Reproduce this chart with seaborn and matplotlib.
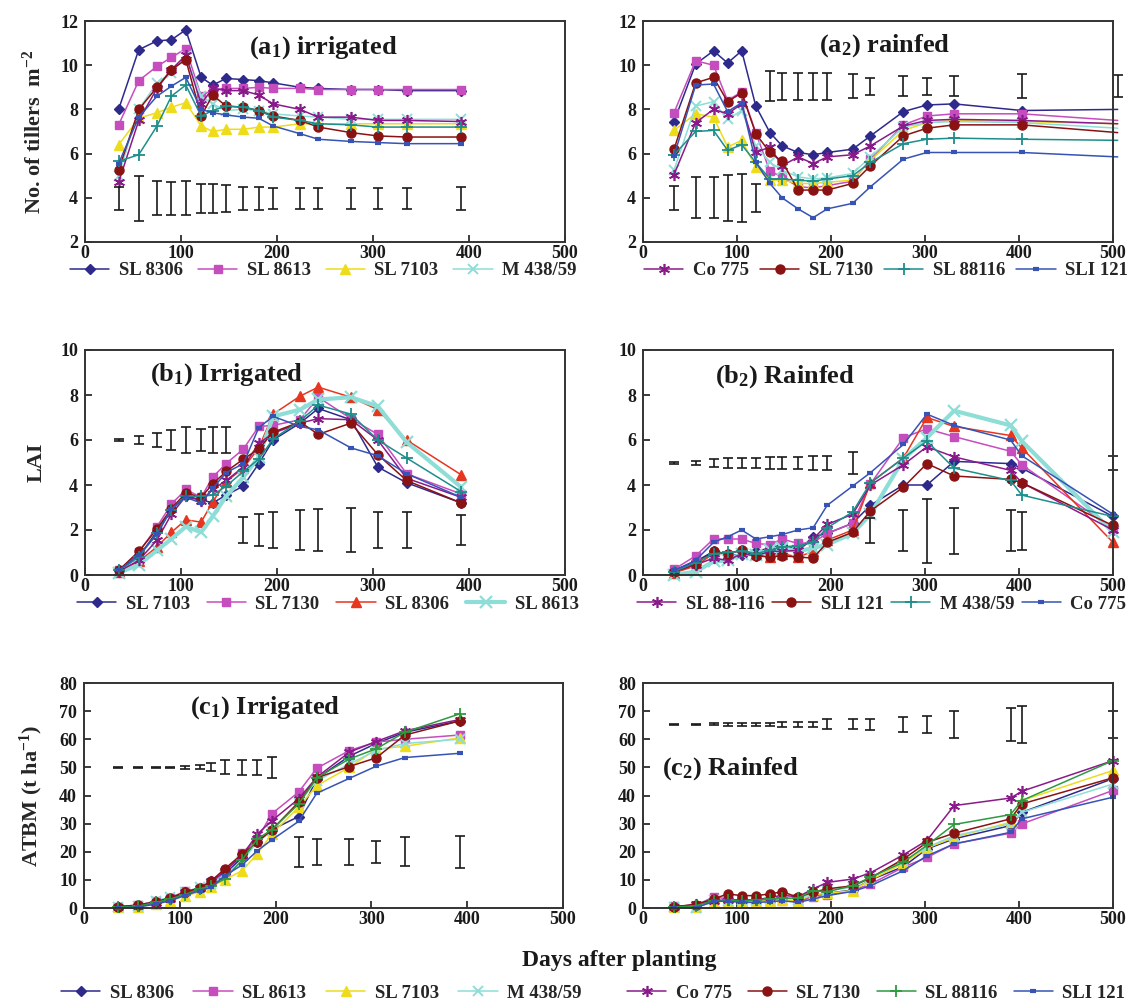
import matplotlib
matplotlib.use("Agg")
import matplotlib.pyplot as plt
import seaborn as sns

# ---------------------------------------------------------------------------
# Sampling dates (days after planting)
# ---------------------------------------------------------------------------
days_irr = [35, 56, 75, 90, 105, 121, 133, 147, 165, 181, 196, 224, 243, 277, 305, 335, 392]
days_rain_a = [33, 56, 75, 90, 105, 120, 135, 148, 165, 181, 196, 223, 242, 277, 302, 331, 403, 505]
days_rain = [33, 56, 75, 90, 105, 120, 135, 148, 165, 181, 196, 223, 242, 277, 302, 331, 391, 403, 500]

# ---------------------------------------------------------------------------
# (a1) tillers, irrigated
# ---------------------------------------------------------------------------
tillers_irr = {
    "SL 8306": [8.0, 10.7, 11.1, 11.15, 11.6, 9.45, 9.1, 9.4, 9.35, 9.3, 9.2, 9.0, 8.95, 8.9, 8.9, 8.85, 8.85],
    "SL 8613": [7.3, 9.3, 9.95, 10.35, 10.75, 8.6, 8.9, 8.95, 8.95, 9.0, 8.95, 8.95, 8.9, 8.9, 8.9, 8.9, 8.9],
    "SL 7103": [6.4, 7.6, 7.85, 8.1, 8.3, 7.25, 7.0, 7.1, 7.1, 7.2, 7.2, 7.35, 7.35, 7.35, 7.35, 7.35, 7.35],
    "M 438/59": [5.0, 8.0, 9.2, 9.65, 10.4, 8.6, 8.25, 7.95, 8.0, 7.95, 7.8, 7.7, 7.65, 7.55, 7.55, 7.55, 7.55],
    "Co 775": [4.7, 7.5, 8.95, 9.8, 10.45, 8.25, 8.95, 8.85, 8.85, 8.65, 8.25, 8.0, 7.65, 7.65, 7.5, 7.5, 7.45],
    "SL 7130": [5.25, 8.0, 9.0, 9.8, 10.25, 7.7, 8.65, 8.15, 8.1, 7.95, 7.7, 7.5, 7.2, 6.95, 6.8, 6.75, 6.75],
    "SL 88116": [5.65, 5.95, 7.25, 8.6, 9.1, 7.7, 7.95, 8.15, 8.1, 7.95, 7.65, 7.5, 7.35, 7.3, 7.2, 7.2, 7.2],
    "SLI 121": [5.55, 7.65, 8.6, 9.05, 9.45, 8.0, 7.85, 7.75, 7.65, 7.6, 7.25, 6.9, 6.65, 6.55, 6.5, 6.45, 6.45],
}
tillers_irr_err_mid = [3.97] * 17
tillers_irr_err_half = [0.52, 1.02, 0.77, 0.75, 0.77, 0.65, 0.66, 0.62, 0.54, 0.54, 0.49, 0.49, 0.47, 0.48, 0.48, 0.48, 0.5]

# ---------------------------------------------------------------------------
# (a2) tillers, rainfed
# ---------------------------------------------------------------------------
tillers_rain = {
    "SL 8306": [7.45, 10.05, 10.65, 10.1, 10.65, 8.15, 6.95, 6.35, 6.05, 5.95, 6.05, 6.2, 6.8, 7.9, 8.2, 8.25, 7.95, 8.0],
    "SL 8613": [7.85, 10.2, 10.0, 8.4, 8.8, 6.95, 5.2, 4.95, 4.5, 4.45, 4.55, 4.75, 5.75, 7.3, 7.7, 7.8, 7.8, 7.5],
    "SL 7103": [7.05, 7.8, 7.65, 6.3, 6.6, 5.4, 4.8, 4.8, 4.65, 4.65, 4.7, 4.8, 5.7, 7.05, 7.4, 7.5, 7.45, 7.35],
    "M 438/59": [5.25, 8.15, 8.35, 7.55, 7.95, 6.35, 5.6, 5.25, 4.95, 4.85, 4.9, 5.1, 5.85, 7.2, 7.4, 7.45, 7.4, 7.15],
    "Co 775": [5.05, 7.4, 8.0, 7.8, 8.25, 6.05, 6.3, 5.45, 5.85, 5.55, 5.85, 5.95, 6.35, 7.25, 7.5, 7.55, 7.5, 7.35],
    "SL 7130": [6.2, 9.2, 9.45, 8.35, 8.75, 6.9, 6.05, 5.65, 4.35, 4.35, 4.35, 4.65, 5.45, 6.8, 7.15, 7.3, 7.3, 6.95],
    "SL 88116": [5.95, 7.0, 7.05, 6.15, 6.4, 5.6, 4.85, 4.85, 4.8, 4.75, 4.85, 5.0, 5.6, 6.45, 6.65, 6.7, 6.65, 6.6],
    "SLI 121": [5.9, 9.1, 9.15, 7.9, 8.3, 5.6, 4.65, 4.0, 3.5, 3.1, 3.5, 3.75, 4.5, 5.75, 6.05, 6.05, 6.05, 5.85],
}
tillers_rain_err_mid = [4.0] * 6 + [9.05] * 12
tillers_rain_err_half = [0.55, 0.92, 0.92, 1.04, 1.09, 0.62, 0.67, 0.61, 0.61, 0.61, 0.61, 0.55,
                         0.38, 0.44, 0.38, 0.44, 0.53, 0.5]

# ---------------------------------------------------------------------------
# (b1) LAI, irrigated
# ---------------------------------------------------------------------------
lai_irr = {
    "SL 7103": [0.2, 0.8, 1.95, 2.9, 3.5, 3.35, 3.2, 3.55, 3.95, 4.95, 6.0, 6.75, 7.4, 6.9, 4.8, 4.1, 3.2],
    "SL 7130": [0.2, 1.0, 2.15, 3.15, 3.8, 3.45, 4.35, 4.95, 5.6, 6.6, 6.65, 6.9, 7.9, 6.95, 6.25, 4.5, 3.6],
    "SL 8306": [0.15, 0.6, 1.25, 1.9, 2.45, 2.35, 3.25, 4.15, 4.75, 5.65, 7.15, 7.95, 8.35, 7.9, 7.35, 6.0, 4.45],
    "SL 8613": [0.1, 0.45, 1.1, 1.6, 2.15, 1.9, 2.6, 3.5, 4.35, 5.25, 7.05, 7.35, 7.8, 7.9, 7.5, 5.9, 3.9],
    "SL 88-116": [0.15, 0.65, 1.55, 2.7, 3.5, 3.3, 3.8, 4.2, 4.8, 5.85, 6.3, 6.75, 6.95, 6.9, 6.0, 4.3, 3.45],
    "SLI 121": [0.2, 1.05, 2.05, 2.95, 3.65, 3.45, 4.05, 4.6, 5.15, 5.6, 6.35, 6.8, 6.25, 6.75, 5.35, 4.2, 3.2],
    "M 438/59": [0.2, 0.8, 1.85, 2.9, 3.5, 3.5, 3.55, 3.95, 4.6, 5.15, 6.05, 6.85, 7.55, 7.15, 6.0, 5.2, 3.7],
    "Co 775": [0.2, 0.9, 1.8, 2.95, 3.45, 3.2, 3.85, 4.55, 4.95, 6.55, 7.05, 6.6, 6.45, 5.65, 5.3, 4.5, 3.45],
}
lai_irr_err_mid = [6.0] * 8 + [2.0] * 9
lai_irr_err_half = [0.05, 0.17, 0.32, 0.46, 0.58, 0.47, 0.57, 0.56, 0.58, 0.69, 0.79, 0.88, 0.94, 0.96, 0.8, 0.8, 0.65]

# ---------------------------------------------------------------------------
# (b2) LAI, rainfed
# ---------------------------------------------------------------------------
lai_rain = {
    "SL 7103": [0.2, 0.6, 1.05, 0.9, 0.9, 1.05, 1.2, 1.35, 1.1, 1.7, 1.85, 2.3, 3.1, 4.0, 4.0, 5.05, 4.95, 4.75, 2.6],
    "SL 7130": [0.25, 0.85, 1.6, 1.6, 1.6, 1.4, 1.35, 1.6, 1.4, 1.45, 1.85, 2.3, 4.05, 6.1, 6.5, 6.15, 5.5, 4.9, 2.05],
    "SL 8306": [0.1, 0.4, 0.95, 0.95, 1.1, 0.95, 0.8, 0.95, 0.8, 1.05, 1.55, 2.0, 4.1, 5.2, 7.0, 6.6, 6.2, 5.65, 1.45],
    "SL 8613": [0.0, 0.15, 0.6, 0.65, 0.95, 0.9, 1.1, 1.2, 1.05, 1.2, 1.35, 1.85, 2.7, 5.15, 6.1, 7.3, 6.65, 5.95, 1.9],
    "SL 88-116": [0.15, 0.45, 0.75, 0.65, 0.95, 0.85, 1.05, 1.05, 1.1, 1.6, 2.25, 2.7, 4.0, 4.9, 5.7, 5.25, 4.65, 4.1, 2.0],
    "SLI 121": [0.15, 0.5, 1.05, 0.95, 1.1, 0.85, 0.8, 0.85, 0.8, 0.75, 1.45, 1.9, 2.85, 3.9, 4.95, 4.4, 4.25, 4.1, 2.2],
    "M 438/59": [0.15, 0.55, 0.95, 1.0, 1.05, 0.95, 1.1, 1.25, 1.3, 1.45, 2.1, 2.8, 4.1, 5.2, 5.95, 4.75, 4.2, 3.55, 2.6],
    "Co 775": [0.2, 0.65, 1.45, 1.7, 2.0, 1.6, 1.7, 1.8, 2.0, 2.1, 3.1, 3.95, 4.55, 5.8, 7.15, 6.65, 6.0, 5.3, 2.7],
}
lai_rain_err_mid = [4.98] * 12 + [1.97] * 6 + [4.97]
lai_rain_err_half = [0.04, 0.1, 0.18, 0.24, 0.24, 0.21, 0.28, 0.27, 0.26, 0.31, 0.33, 0.48,
                     0.56, 0.92, 1.42, 1.02, 0.92, 0.85, 0.3]

# ---------------------------------------------------------------------------
# (c1) ATBM, irrigated
# ---------------------------------------------------------------------------
atbm_irr = {
    "SL 8306": [0.3, 0.6, 2.0, 3.2, 5.0, 6.5, 8.5, 12.0, 18.0, 23.5, 27.8, 32.5, 46.0, 54.0, 58.5, 62.5, 66.5],
    "SL 8613": [0.5, 1.0, 2.4, 3.6, 5.9, 7.1, 9.1, 12.7, 19.5, 24.6, 33.5, 41.2, 49.7, 56.0, 59.0, 60.0, 61.5],
    "SL 7103": [0.3, 0.5, 1.4, 2.6, 4.4, 5.6, 7.6, 10.0, 13.3, 19.2, 26.3, 35.8, 43.5, 50.0, 56.5, 57.5, 60.5],
    "M 438/59": [0.5, 0.8, 2.6, 3.8, 5.6, 7.4, 8.5, 11.9, 16.6, 23.4, 27.5, 37.5, 45.3, 51.2, 56.0, 58.5, 60.0],
    "Co 775": [0.4, 0.8, 1.8, 3.2, 5.6, 7.1, 9.5, 13.0, 18.6, 26.3, 31.0, 38.8, 46.5, 55.4, 59.2, 63.0, 67.0],
    "SL 7130": [0.5, 1.0, 2.3, 3.6, 5.6, 7.1, 9.7, 13.9, 19.2, 23.4, 27.8, 37.6, 46.3, 50.3, 53.4, 61.5, 66.5],
    "SL 88116": [0.3, 0.6, 2.0, 3.2, 4.7, 6.8, 8.0, 10.3, 17.1, 24.6, 27.8, 37.0, 46.3, 53.0, 56.6, 62.5, 69.0],
    "SLI 121": [0.0, 0.3, 1.4, 2.6, 4.4, 6.2, 7.4, 11.5, 15.3, 20.4, 24.2, 30.8, 40.8, 46.1, 50.4, 53.5, 55.0],
}
atbm_irr_err_mid = [50.0] * 11 + [20.0] * 6
atbm_irr_err_half = [0.2, 0.2, 0.2, 0.2, 0.5, 0.7, 1.4, 2.5, 2.8, 2.8, 3.7, 5.3, 4.6, 4.6, 3.9, 5.2, 5.7]

# ---------------------------------------------------------------------------
# (c2) ATBM, rainfed
# ---------------------------------------------------------------------------
atbm_rain = {
    "SL 8306": [0.2, 0.2, 2.4, 2.6, 2.4, 2.4, 2.6, 2.8, 2.4, 4.4, 5.2, 6.4, 10.0, 14.7, 21.0, 24.6, 29.3, 34.0, 46.0],
    "SL 8613": [0.8, 0.8, 4.0, 3.2, 2.4, 2.4, 2.4, 2.6, 2.4, 3.8, 4.7, 6.2, 8.5, 14.5, 18.0, 22.8, 26.6, 29.9, 41.8],
    "SL 7103": [0.3, 0.5, 2.0, 2.6, 2.6, 2.4, 2.6, 2.8, 2.6, 4.7, 5.2, 6.2, 10.0, 15.9, 21.3, 25.1, 30.5, 38.2, 48.9],
    "M 438/59": [0.2, 0.0, 2.8, 2.6, 2.8, 2.8, 3.2, 4.0, 2.8, 5.6, 6.2, 7.4, 10.7, 16.8, 21.6, 25.7, 29.9, 34.0, 44.1],
    "Co 775": [0.2, 1.4, 2.6, 2.8, 3.0, 2.8, 3.8, 4.5, 4.0, 6.8, 9.1, 10.3, 12.5, 18.9, 24.0, 36.4, 39.1, 41.5, 52.4],
    "SL 7130": [0.5, 1.2, 3.2, 5.0, 4.4, 4.4, 5.0, 5.8, 3.8, 5.6, 6.8, 7.9, 10.7, 17.4, 23.3, 26.6, 31.7, 37.0, 46.3],
    "SL 88116": [0.3, 0.8, 2.6, 2.8, 2.6, 2.8, 3.2, 3.4, 3.6, 6.2, 5.8, 7.9, 10.9, 16.3, 22.3, 29.7, 33.2, 38.2, 52.4],
    "SLI 121": [0.0, 0.0, 2.4, 2.4, 2.0, 2.0, 2.2, 2.6, 2.0, 3.2, 4.4, 5.9, 7.9, 13.3, 18.5, 22.8, 26.9, 31.7, 39.4],
}
atbm_rain_err_mid = [65.3] * 19
atbm_rain_err_half = [0.2, 0.3, 0.4, 0.45, 0.45, 0.45, 0.6, 0.9, 0.9, 0.9, 1.8, 1.8, 2.0, 2.6, 2.9, 4.9, 5.9, 6.7, 4.9]

# ---------------------------------------------------------------------------
# Styles
# ---------------------------------------------------------------------------
LOOK = {
    "indigo": dict(color="#2E2A8C", marker="D", ms=5.5, mew=1.0, lw=1.1),
    "magenta": dict(color="#C64DBD", marker="s", ms=6.0, mew=1.0, lw=1.1),
    "yellow": dict(color="#EEDC1C", marker="^", ms=7.0, mew=1.0, lw=1.1),
    "cyan": dict(color="#8EDDD7", marker="x", ms=6.5, mew=1.4, lw=1.1),
    "cyan_thick": dict(color="#8EDDD7", marker="x", ms=9.0, mew=1.6, lw=3.0),
    "purple": dict(color="#8A1A8A", marker=(6, 2, 0), ms=8.0, mew=1.2, lw=1.1),
    "darkred": dict(color="#8A1212", marker="o", ms=6.5, mew=1.0, lw=1.1),
    "teal": dict(color="#1E8E8A", marker="+", ms=8.5, mew=1.3, lw=1.1),
    "green": dict(color="#2E9A40", marker="+", ms=8.5, mew=1.3, lw=1.1),
    "blue": dict(color="#3653B5", marker="_", ms=4.5, mew=3.0, lw=1.1),
    "red": dict(color="#E6361F", marker="^", ms=7.5, mew=1.0, lw=1.1),
}
style_a = {"SL 8306": "indigo", "SL 8613": "magenta", "SL 7103": "yellow", "M 438/59": "cyan",
           "Co 775": "purple", "SL 7130": "darkred", "SL 88116": "teal", "SLI 121": "blue"}
style_b = {"SL 7103": "indigo", "SL 7130": "magenta", "SL 8306": "red", "SL 8613": "cyan_thick",
           "SL 88-116": "purple", "SLI 121": "darkred", "M 438/59": "teal", "Co 775": "blue"}
style_c = dict(style_a, **{"SL 88116": "green"})

# ---------------------------------------------------------------------------
# Theme and fonts
# ---------------------------------------------------------------------------
sns.set_theme(style="ticks")
plt.rcParams["font.family"] = ["Liberation Serif", "DejaVu Serif"]
plt.rcParams["font.weight"] = "bold"
plt.rcParams["axes.labelweight"] = "bold"
plt.rcParams["mathtext.fontset"] = "custom"
plt.rcParams["mathtext.rm"] = "Liberation Serif:bold"
plt.rcParams["mathtext.bf"] = "Liberation Serif:bold"
plt.rcParams["mathtext.it"] = "Liberation Serif:bold"
plt.rcParams["mathtext.default"] = "rm"

W, H = 1142, 1005
fig = plt.figure(figsize=(W / 100, H / 100), dpi=100)
fig.patch.set_facecolor("white")


def px_axes(left, right, top, bottom):
    return fig.add_axes([left / W, 1 - bottom / H, (right - left) / W, (bottom - top) / H])


def draw_panel(ax, days, series, styles, err_mid, err_half, ylim, ystep, title, title_xy,
               hide_last_marker=False):
    for name, vals in series.items():
        st = LOOK[styles[name]]
        extra = {}
        if hide_last_marker:
            extra["markevery"] = list(range(len(days) - 1))
        sns.lineplot(x=days, y=vals, ax=ax, color=st["color"], marker=st["marker"],
                     markersize=st["ms"], markeredgecolor=st["color"],
                     markeredgewidth=st["mew"], linewidth=st["lw"], label=name,
                     sort=False, estimator=None, clip_on=False, **extra)
    eb = ax.errorbar(days, err_mid, yerr=err_half, fmt="none", ecolor="#1a1a1a",
                     elinewidth=1.2, capsize=3.5, capthick=1.2)
    for art in list(eb.lines[1]) + list(eb.lines[2]):
        art.set_clip_on(False)

    ax.set_xlim(0, 500)
    ax.set_xticks(range(0, 501, 100))
    ax.set_ylim(*ylim)
    ax.set_yticks(range(int(ylim[0]), int(ylim[1]) + 1, ystep))
    ax.set_xlabel("")
    ax.set_ylabel("")
    ax.tick_params(direction="in", length=5, width=1.2, labelsize=13, pad=2,
                   top=False, right=False, colors="#1a1a1a")
    ax.tick_params(axis="y", pad=5)
    for lab in ax.get_xticklabels() + ax.get_yticklabels():
        lab.set_fontweight("bold")
    for s in ax.spines.values():
        s.set_color("#333333")
        s.set_linewidth(1.4)
    ax.text(title_xy[0], title_xy[1], title, transform=ax.transAxes, ha="center",
            va="center", fontsize=19, fontweight="bold", color="#1a1a1a")
    if ax.get_legend() is not None:
        ax.get_legend().remove()


def row_legend(ax, handles, labels, x, y, colsp):
    ax.legend(handles, labels, loc="center left", bbox_to_anchor=(x, y), ncol=4,
              frameon=False, prop={"size": 13.5, "weight": "bold"}, handlelength=2.1,
              handletextpad=0.5, columnspacing=colsp, borderpad=0, borderaxespad=0,
              numpoints=1)


ax_a1 = px_axes(85, 565, 21, 242)
ax_a2 = px_axes(643, 1113, 21, 242)
ax_b1 = px_axes(85, 565, 350, 575)
ax_b2 = px_axes(643, 1113, 350, 575)
ax_c1 = px_axes(84, 563, 683, 908)
ax_c2 = px_axes(643, 1113, 683, 908)

draw_panel(ax_a1, days_irr, tillers_irr, style_a, tillers_irr_err_mid, tillers_irr_err_half,
           (2, 12), 2, "(a$_1$) irrigated", (0.496, 0.878))
draw_panel(ax_a2, days_rain_a, tillers_rain, style_a, tillers_rain_err_mid, tillers_rain_err_half,
           (2, 12), 2, "(a$_2$) rainfed", (0.515, 0.887), hide_last_marker=True)
draw_panel(ax_b1, days_irr, lai_irr, style_b, lai_irr_err_mid, lai_irr_err_half,
           (0, 10), 2, "(b$_1$) Irrigated", (0.295, 0.889))
draw_panel(ax_b2, days_rain, lai_rain, style_b, lai_rain_err_mid, lai_rain_err_half,
           (0, 10), 2, "(b$_2$) Rainfed", (0.302, 0.884))
draw_panel(ax_c1, days_irr, atbm_irr, style_c, atbm_irr_err_mid, atbm_irr_err_half,
           (0, 80), 10, "(c$_1$) Irrigated", (0.378, 0.889))
draw_panel(ax_c2, days_rain, atbm_rain, style_c, atbm_rain_err_mid, atbm_rain_err_half,
           (0, 80), 10, "(c$_2$) Rainfed", (0.187, 0.618))

ax_a1.set_ylabel("No. of tillers  m$^{-2}$", fontsize=16, labelpad=10)
ax_b1.set_ylabel("LAI", fontsize=16, labelpad=10)
ax_c1.set_ylabel("ATBM (t ha$^{-1}$)", fontsize=16, labelpad=10)

# legends
h, l = ax_a1.get_legend_handles_labels()
row_legend(ax_a1, h[:4], l[:4], -0.031, -0.13, 0.8)
h, l = ax_a2.get_legend_handles_labels()
row_legend(ax_a2, h[4:], l[4:], 0.002, -0.13, 0.6)
h, l = ax_b1.get_legend_handles_labels()
row_legend(ax_b1, h[:4], l[:4], -0.017, -0.13, 0.9)
h, l = ax_b2.get_legend_handles_labels()
row_legend(ax_b2, h[4:], l[4:], -0.013, -0.13, 0.4)
h, l = ax_c1.get_legend_handles_labels()
row_legend(ax_c1, h[:4], l[:4], -0.048, -0.378, 1.05)
h, l = ax_c2.get_legend_handles_labels()
row_legend(ax_c2, h[4:], l[4:], -0.034, -0.378, 0.85)

fig.text(619 / W, 1 - 960 / H, "Days after planting", ha="center", va="center",
         fontsize=17, fontweight="bold", color="#1a1a1a")

fig.savefig("out.png", dpi=100)
